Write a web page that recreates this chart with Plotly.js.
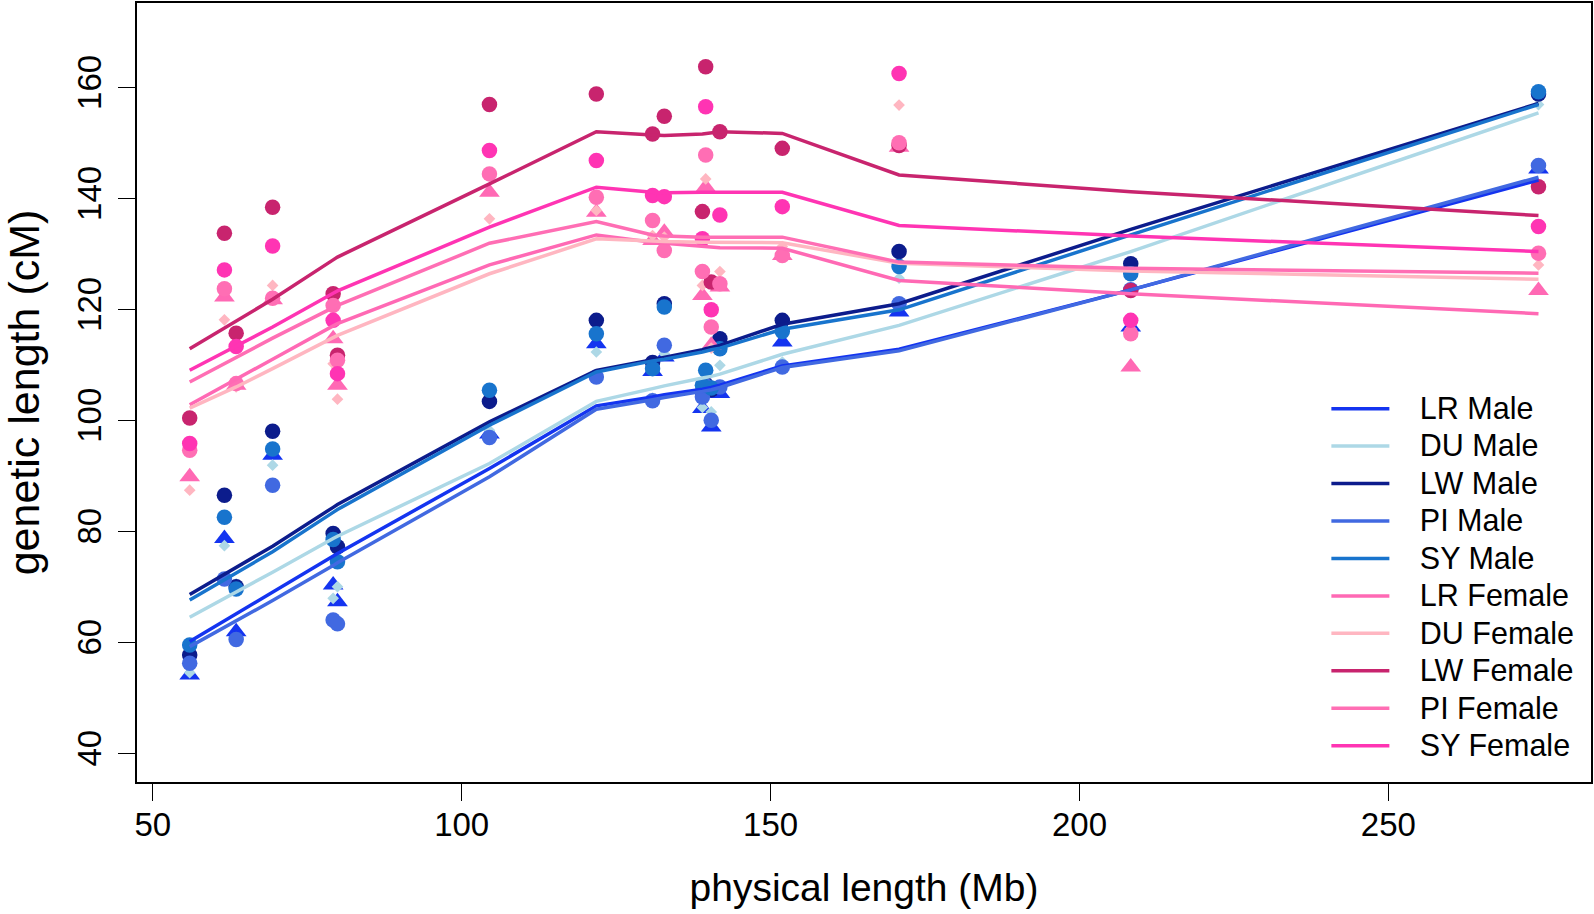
<!DOCTYPE html>
<html>
<head>
<meta charset="utf-8">
<script src="https://cdn.plot.ly/plotly-3.0.1.min.js"></script>
<style>
html,body{margin:0;padding:0;background:#fff;}
#chart{width:1594px;height:914px;}
#chart .legend .legendtext{font-size:30.5px !important;}
#chart .legend .scrollbox{clip-path:none !important;}
</style>
</head>
<body>
<div id="chart"></div>
<script>
// chromosome physical lengths (Mb), sorted
const chromosomes = ['chr18','chr12','chr17','chr10','chr11','chr16','chr5','chr7','chr4','chr3','chr8','chr9','chr15','chr14','chr2','chr6','chr13','chr1'];
const physicalLength = [55.98, 61.6, 63.5, 69.4, 79.2, 79.9, 104.5, 121.8, 130.9, 132.8, 138.97, 139.5, 140.4, 141.8, 151.9, 170.8, 208.3, 274.3];

// observed genetic lengths (cM)
const lrMale   = [54.1, 78.7, 61.9, 93.7, 70.3, 67.3, 97.5, 113.8, 108.8, 111.4, 102.1, 105.0, 98.8, 104.8, 114.1, 119.5, 116.8, 145.3];
const duMale   = [54.5, 77.4, 70.5, 91.9, 67.9, 70.0, 98.2, 112.3, 104.0, 112.0, 102.3, 106.0, 101.5, 109.9, 110.5, 125.6, 126.5, 156.9];
const lwMale   = [57.7, 86.5, 70.0, 98.0, 79.6, 77.2, 103.4, 118.0, 110.4, 121.0, 105.1, 106.5, 105.5, 114.7, 118.0, 130.4, 128.2, 158.8];
const piMale   = [56.2, 71.4, 60.5, 88.3, 64.0, 63.3, 96.9, 107.8, 103.5, 113.5, 104.2, 106.2, 100.0, 106.0, 109.6, 121.0, 123.5, 145.9];
const syMale   = [59.5, 82.5, 69.6, 94.8, 78.5, 74.5, 105.4, 115.6, 109.3, 120.4, 106.3, 109.0, 105.8, 112.9, 116.0, 127.7, 126.4, 159.2];
const lrFemale = [89.8, 122.2, 106.3, 121.7, 114.7, 106.3, 141.1, 137.5, 132.4, 133.9, 122.5, 142.0, 113.5, 124.0, 129.7, 149.2, 109.6, 123.4];
const duFemale = [87.4, 118.1, 106.0, 124.3, 110.2, 103.8, 136.3, 137.8, 133.3, 133.0, 124.3, 143.5, 113.0, 126.8, 131.3, 156.8, 116.5, 128.0];
const lwFemale = [100.4, 133.7, 115.7, 138.4, 122.8, 111.7, 156.9, 158.8, 151.6, 154.8, 137.6, 163.7, 124.9, 152.0, 149.0, 149.5, 123.4, 142.1];
const piFemale = [94.6, 123.7, 106.6, 122.0, 120.7, 110.8, 144.4, 140.2, 136.0, 130.6, 126.8, 147.8, 116.8, 124.6, 129.7, 150.0, 115.6, 130.1];
const syFemale = [95.8, 127.1, 113.3, 131.4, 118.0, 108.4, 148.6, 146.8, 140.5, 140.3, 132.7, 156.5, 119.9, 137.0, 138.5, 162.5, 118.0, 134.9];

// fitted curves (cM) at the same physical lengths
const lrMaleFit   = [60.1, 63.8, 65.1, 69.0, 75.5, 76.0, 91.3, 102.6, 104.2, 104.6, 105.6, 105.7, 105.9, 106.3, 109.8, 112.8, 123.5, 143.3];
const duMaleFit   = [64.5, 67.9, 69.0, 72.6, 78.7, 79.1, 92.2, 103.4, 105.7, 106.2, 107.6, 107.7, 107.9, 108.3, 111.9, 117.1, 130.4, 155.4];
const lwMaleFit   = [68.6, 72.2, 73.4, 77.3, 84.3, 84.8, 99.7, 109.0, 110.9, 111.3, 112.7, 112.9, 113.1, 113.5, 117.3, 121.0, 134.4, 157.1];
const piMaleFit   = [59.2, 62.6, 63.8, 67.5, 73.8, 74.3, 89.8, 102.0, 103.7, 104.1, 105.2, 105.3, 105.5, 105.9, 109.5, 112.5, 123.5, 143.8];
const syMaleFit   = [67.6, 71.2, 72.4, 76.3, 83.4, 83.9, 99.1, 108.7, 110.7, 111.0, 112.3, 112.5, 112.7, 113.0, 116.4, 119.9, 133.4, 156.9];
const lrFemaleFit = [102.8, 106.3, 107.4, 111.0, 117.0, 117.4, 128.0, 133.4, 132.1, 131.9, 131.3, 131.2, 131.2, 131.1, 131.0, 125.2, 122.8, 119.2];
const duFemaleFit = [102.2, 105.0, 106.0, 109.3, 115.0, 115.3, 126.4, 132.7, 132.3, 132.2, 132.1, 132.1, 132.1, 132.1, 132.0, 128.3, 126.9, 125.4];
const lwFemaleFit = [112.9, 116.6, 117.8, 121.8, 128.9, 129.4, 142.6, 152.0, 151.4, 151.3, 151.6, 151.7, 151.8, 152.0, 151.7, 144.2, 141.2, 136.9];
const piFemaleFit = [106.9, 110.2, 111.3, 114.8, 120.3, 120.7, 131.9, 135.8, 133.4, 133.2, 133.0, 133.0, 133.0, 133.0, 133.0, 128.5, 127.4, 126.5];
const syFemaleFit = [109.0, 112.3, 113.4, 116.8, 122.9, 123.3, 134.8, 142.0, 141.1, 141.0, 141.1, 141.1, 141.2, 141.2, 141.1, 135.1, 133.2, 130.4];

const seriesNames = ['LR Male','DU Male','LW Male','PI Male','SY Male','LR Female','DU Female','LW Female','PI Female','SY Female'];
const seriesColors = ['#1434F0','#ADD8E6','#0C1C8C','#4169E1','#1874CD','#FF69B4','#FFB6C1','#C8246E','#FF6EB4','#FF34B3'];
const seriesSymbols = ['triangle-up','diamond','circle','circle','circle','triangle-up','diamond','circle','circle','circle'];
const observed = [lrMale, duMale, lwMale, piMale, syMale, lrFemale, duFemale, lwFemale, piFemale, syFemale];
const fitted = [lrMaleFit, duMaleFit, lwMaleFit, piMaleFit, syMaleFit, lrFemaleFit, duFemaleFit, lwFemaleFit, piFemaleFit, syFemaleFit];

const symbolSize = {'circle': 15.5, 'triangle-up': 18, 'diamond': 9};
const traces = [];
seriesNames.forEach((name, i) => {
  traces.push({
    x: physicalLength, y: observed[i], type: 'scatter', mode: 'markers',
    name: name, showlegend: false, hoverinfo: 'x+y+name',
    marker: {color: seriesColors[i], symbol: seriesSymbols[i], size: symbolSize[seriesSymbols[i]], line: {width: 0}}
  });
});
const padL = '\u00A0\u00A0\u00A0';
seriesNames.forEach((name, i) => {
  traces.push({
    x: physicalLength, y: fitted[i], type: 'scatter', mode: 'lines',
    name: padL + name, line: {color: seriesColors[i], width: 3.5}
  });
});

const fontFam = 'Liberation Sans, Arial, Helvetica, sans-serif';
const layout = {
  width: 1594, height: 914,
  margin: {l: 137, r: 3, t: 3, b: 132},
  paper_bgcolor: '#ffffff', plot_bgcolor: '#ffffff',
  font: {family: fontFam, color: '#000000'},
  showlegend: true,
  xaxis: {
    range: [47.45, 282.8], tickvals: [50, 100, 150, 200, 250],
    showgrid: false, zeroline: false, showline: true, mirror: true,
    linecolor: '#000000', linewidth: 1.5,
    ticks: 'outside', ticklen: 17, tickwidth: 1.2, tickcolor: '#000000',
    ticklabelstandoff: -4,
    tickfont: {size: 33, family: fontFam},
    title: {text: 'physical length (Mb)', font: {size: 39, family: fontFam}, standoff: 31}
  },
  yaxis: {
    range: [34.8, 175.2], tickvals: [40, 60, 80, 100, 120, 140, 160],
    showgrid: false, zeroline: false, showline: true, mirror: true,
    linecolor: '#000000', linewidth: 1.5,
    ticks: 'outside', ticklen: 17, tickwidth: 1.2, tickcolor: '#000000',
    tickangle: -90, ticklabelstandoff: 4,
    tickfont: {size: 33, family: fontFam},
    title: {text: 'genetic length (cM)', font: {size: 43, family: fontFam}, standoff: 30}
  },
  legend: {
    x: 0.818, xanchor: 'left', y: 0.0155, yanchor: 'bottom',
    bgcolor: 'rgba(255,255,255,0)', borderwidth: 0,
    font: {size: 26.5, family: fontFam}, itemwidth: 58, tracegroupgap: 0
  }
};
Plotly.newPlot('chart', traces, layout, {displayModeBar: false, responsive: false});
</script>
</body>
</html>
